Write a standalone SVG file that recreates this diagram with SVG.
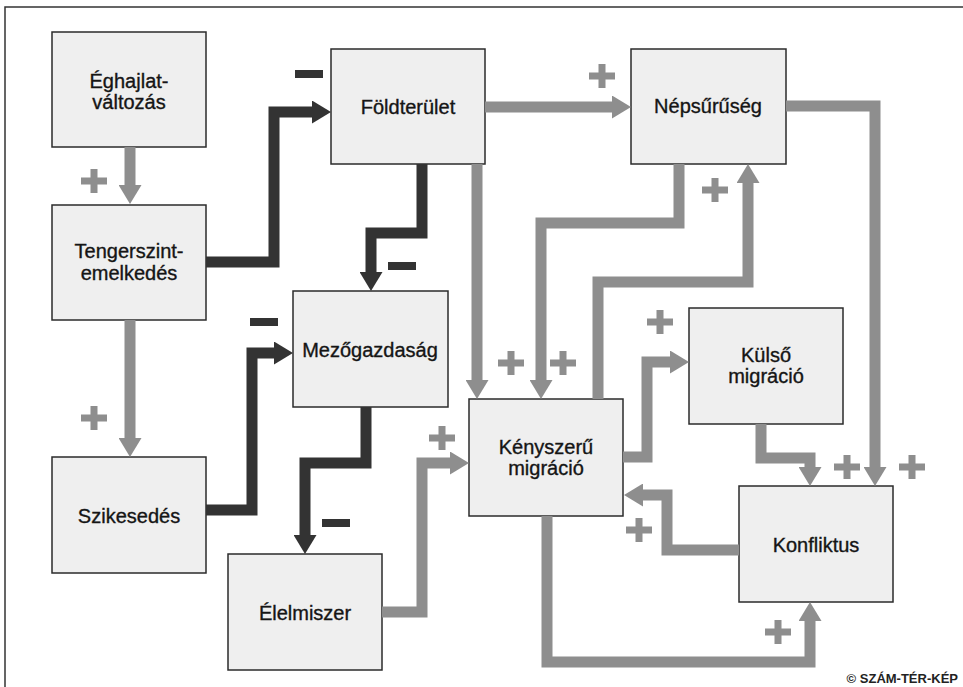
<svg xmlns="http://www.w3.org/2000/svg" width="963" height="687" viewBox="0 0 963 687">
<style>
.box{fill:#efefef;stroke:#2b2b2b;stroke-width:1.5}
.t{font-family:"Liberation Sans",Arial,sans-serif;font-size:20px;fill:#151515;stroke:#151515;stroke-width:0.35;text-anchor:middle}
.g{fill:none;stroke:#8e8e8e;stroke-width:11;stroke-linejoin:miter}
.d{fill:none;stroke:#333;stroke-width:11;stroke-linejoin:miter}
.plus{fill:none;stroke:#8e8e8e;stroke-width:7}
.minus{fill:none;stroke:#333;stroke-width:8}
</style>
<defs>
<marker id="hg" viewBox="0 0 19 23" refX="0" refY="11.5" markerWidth="19" markerHeight="23" markerUnits="userSpaceOnUse" orient="auto">
<path d="M0,0 L19,11.5 L0,23 z" fill="#8e8e8e"/>
</marker>
<marker id="hd" viewBox="0 0 19 23" refX="0" refY="11.5" markerWidth="19" markerHeight="23" markerUnits="userSpaceOnUse" orient="auto">
<path d="M0,0 L19,11.5 L0,23 z" fill="#333"/>
</marker>
</defs>
<rect x="0" y="0" width="963" height="687" fill="#fff"/>
<rect x="5" y="7" width="1000" height="720" fill="none" stroke="#333" stroke-width="1.5"/>

<g id="eghajlat"><rect class="box" x="52" y="32" width="154" height="115"/><text class="t" x="129" y="88">Éghajlat-</text><text class="t" x="129" y="109">változás</text></g>
<g id="tengerszint"><rect class="box" x="52" y="205" width="154" height="115"/><text class="t" x="129" y="258">Tengerszint-</text><text class="t" x="129" y="280">emelkedés</text></g>
<g id="szikesedes"><rect class="box" x="52" y="457" width="154" height="116"/><text class="t" x="129" y="523">Szikesedés</text></g>
<g id="foldterulet"><rect class="box" x="331" y="49" width="154" height="115"/><text class="t" x="408" y="114">Földterület</text></g>
<g id="nepsuruseg"><rect class="box" x="631" y="49" width="155" height="115"/><text class="t" x="708" y="113">Népsűrűség</text></g>
<g id="mezogazdasag"><rect class="box" x="293" y="291" width="155" height="116"/><text class="t" x="370" y="357">Mezőgazdaság</text></g>
<g id="elelmiszer"><rect class="box" x="228" y="554" width="154" height="116"/><text class="t" x="305" y="620">Élelmiszer</text></g>
<g id="kenyszeru"><rect class="box" x="469" y="399" width="154" height="117"/><text class="t" x="546" y="454">Kényszerű</text><text class="t" x="546" y="475">migráció</text></g>
<g id="kulso"><rect class="box" x="689" y="308" width="154" height="116"/><text class="t" x="766" y="362">Külső</text><text class="t" x="766" y="383">migráció</text></g>
<g id="konfliktus"><rect class="box" x="739" y="486" width="154" height="116"/><text class="t" x="816" y="552">Konfliktus</text></g>

<g id="connectors">
<path class="g" marker-end="url(#hg)" d="M130,147 V185"/>
<path class="g" marker-end="url(#hg)" d="M130,320 V438"/>
<path class="g" marker-end="url(#hg)" d="M382,612 H422 V463 H450"/>
<path class="g" marker-end="url(#hg)" d="M485,107 H612"/>
<path class="g" marker-end="url(#hg)" d="M477,164 V380"/>
<path class="g" marker-end="url(#hg)" d="M679,164 V223 H541 V380"/>
<path class="g" marker-end="url(#hg)" d="M598,399 V282 H748 V183"/>
<path class="g" marker-end="url(#hg)" d="M786,106 H875 V467"/>
<path class="g" marker-end="url(#hg)" d="M623,457 H647 V362 H670"/>
<path class="g" marker-end="url(#hg)" d="M761,424 V458 H810 V467"/>
<path class="g" marker-end="url(#hg)" d="M739,550 H667 V495 H643"/>
<path class="g" marker-end="url(#hg)" d="M547,516 V662 H810 V621"/>
<path class="d" marker-end="url(#hd)" d="M206,262 H274 V112 H312"/>
<path class="d" marker-end="url(#hd)" d="M206,510 H252 V353 H274"/>
<path class="d" marker-end="url(#hd)" d="M422,164 V233 H371 V272"/>
<path class="d" marker-end="url(#hd)" d="M366,407 V463 H305 V535"/>
</g>

<g id="signs">
<path class="plus" d="M81,181 H107 M94,169 V193"/>
<path class="plus" d="M81,418 H107 M94,406 V430"/>
<path class="plus" d="M429,438 H455 M442,426 V450"/>
<path class="plus" d="M589,76 H615 M602,64 V88"/>
<path class="plus" d="M498,363 H524 M511,351 V375"/>
<path class="plus" d="M550,363 H576 M563,351 V375"/>
<path class="plus" d="M702,190 H728 M715,178 V202"/>
<path class="plus" d="M899,467 H925 M912,455 V479"/>
<path class="plus" d="M647,322 H673 M660,310 V334"/>
<path class="plus" d="M834,467 H860 M847,455 V479"/>
<path class="plus" d="M626,530 H652 M639,518 V542"/>
<path class="plus" d="M765,632 H791 M778,620 V644"/>
<path class="minus" d="M295,74 H323"/>
<path class="minus" d="M250,322 H278"/>
<path class="minus" d="M388,266 H416"/>
<path class="minus" d="M322,523 H350"/>
</g>

<text x="958" y="683" font-family="'Liberation Sans',Arial,sans-serif" font-size="13" font-weight="bold" fill="#222" text-anchor="end">© SZÁM-TÉR-KÉP</text>
</svg>
